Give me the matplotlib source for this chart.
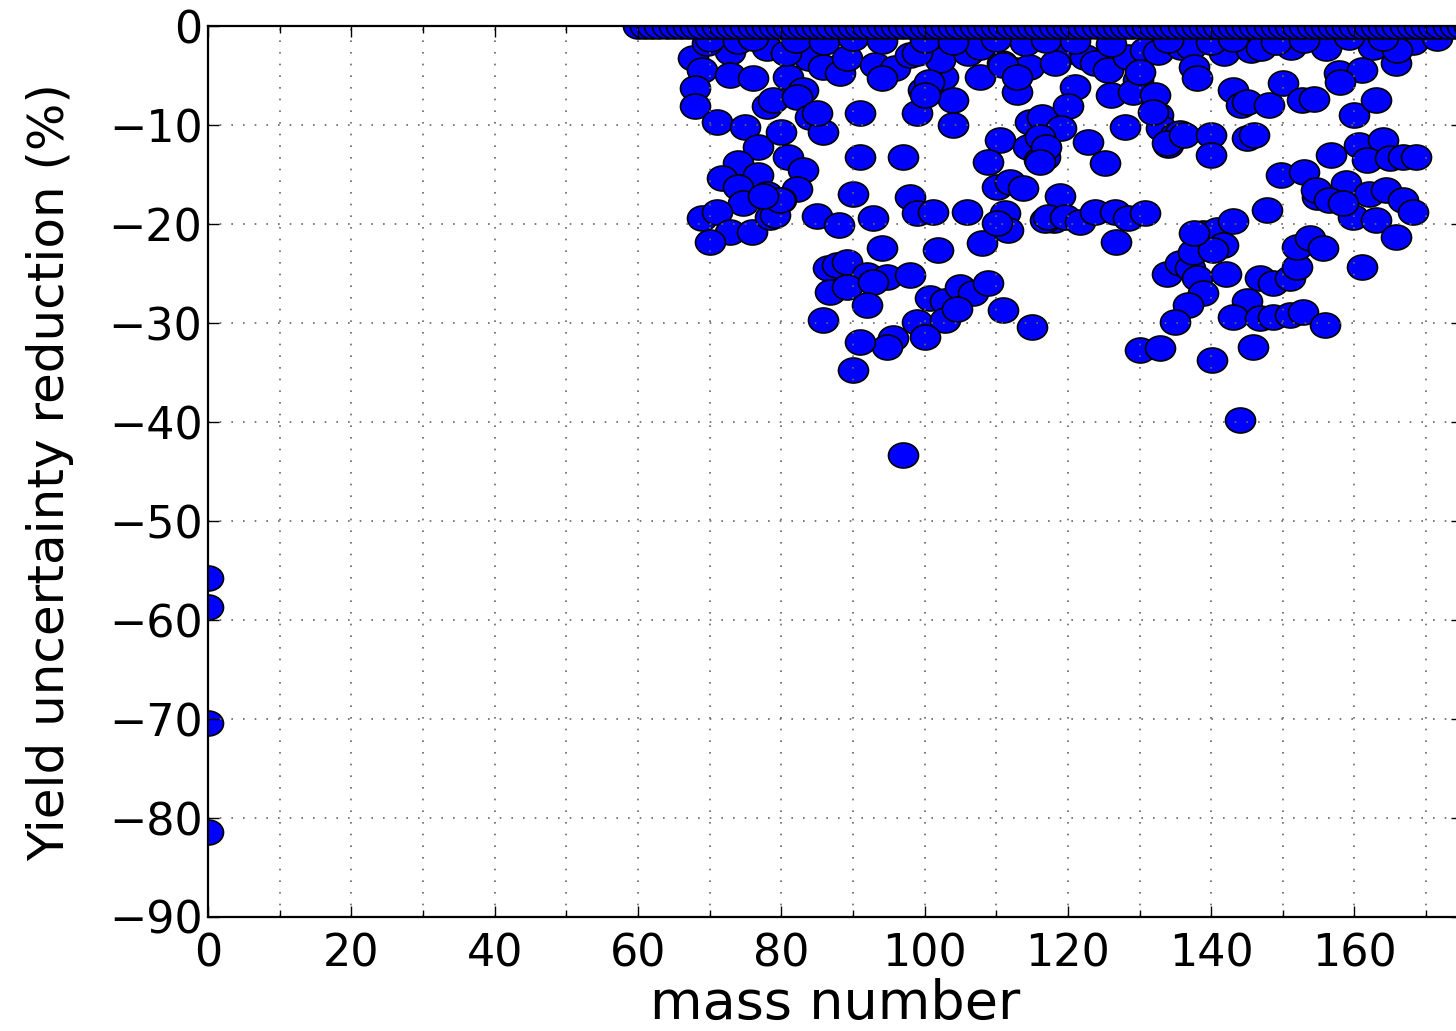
import matplotlib
matplotlib.use("Agg")
import matplotlib.pyplot as plt
from matplotlib.path import Path
from matplotlib.transforms import Affine2D
from matplotlib.ticker import MultipleLocator

# ---- data ----
# mass numbers / yield uncertainty reductions of scattered nuclides
mass = [
    67.7, 68.9, 68.0, 68.0, 71.0, 75.0, 72.9, 78.0, 69.6, 72.9, 76.1, 78.0, 78.9,
    76.8, 74.0, 71.7, 76.8, 74.0, 78.0, 74.7, 68.9, 71.0, 72.9, 75.9, 70.0, 78.4,
    80.0, 81.0, 83.0, 82.2, 80.0, 79.1, 79.8, 77.5,
    81.0, 83.0, 82.2, 83.8, 85.8, 88.2, 89.2, 93.1, 95.9, 98.0, 94.1, 91.0, 99.0,
    99.8, 101.7, 102.6, 104.0, 104.0, 102.2, 106.4, 107.7, 80.7, 84.0, 85.8, 85.0,
    91.0, 97.0, 90.0, 98.0, 85.0, 88.0, 92.8, 99.0, 101.2, 105.9, 101.9, 94.0, 108.0,
    86.5, 87.8, 89.2, 92.0, 94.7, 98.0, 86.8, 89.2, 92.8, 92.0, 85.8, 100.8, 102.9,
    105.0, 106.8, 108.9, 111.0, 115.0, 99.0, 102.9, 100.0, 95.6, 94.7, 91.0, 90.0,
    97.0, 104.5,
    110.8, 112.6, 114.6, 112.9, 111.0, 112.9, 110.5, 108.9, 110.1, 111.9, 113.7,
    114.5, 114.7, 111.2, 111.7, 100.6, 100.0, 106.1, 107.7, 99.0, 116.4, 116.0,
    116.8, 110.1, 118.0, 118.9, 116.8,
    119.6, 122.4, 123.8, 125.6, 128.4, 130.8, 132.6, 135.8, 118.2, 121.0, 126.0,
    129.8, 129.1, 132.2, 120.0, 119.1, 128.0, 122.8, 125.2, 132.6, 133.0, 135.0,
    134.0, 135.7, 117.2, 119.6, 121.7, 123.8, 126.6, 128.4, 130.8, 126.7, 131.9,
    133.8, 116.1, 117.0, 116.1, 130.1,
    133.8, 135.7, 137.0, 138.0, 138.9, 142.0, 136.8, 135.0, 130.1, 132.9, 140.1,
    138.9, 140.8, 143.0, 137.5, 141.7, 140.3, 146.8, 148.6, 151.0, 152.0, 152.0,
    153.8, 155.6, 145.0, 143.0, 146.8, 148.6, 151.0, 152.8, 155.9, 145.8, 144.0,
    161.0, 147.8,
    137.2, 141.8, 145.6, 147.0, 151.2, 137.6, 138.0, 143.0, 144.2, 145.0, 148.1,
    150.0, 152.7, 154.4, 136.2, 140.0, 140.0, 145.0, 146.0, 149.8, 153.0, 154.8,
    137.6,
    156.0, 162.6, 165.8, 168.2, 159.3, 157.8, 161.1, 160.0, 163.0, 156.7, 160.6,
    164.0, 161.7, 164.9, 166.8, 168.6, 154.6, 158.8, 156.5, 162.0, 159.8, 164.4,
    166.8, 168.2, 163.0, 165.8, 158.0, 165.9, 158.4, 171.5,
    70.0, 74.0, 76.0, 82.0, 86.0, 90.0, 94.0, 100.0, 104.0, 110.0, 114.0, 117.0,
    121.0, 126.0, 134.0, 140.0, 143.0, 149.0, 153.0, 164.0,
    0.0, 0.0, 0.0, 0.0,
]
reduction = [
    -3.2, -4.4, -6.2, -8.1, -9.7, -10.2, -2.6, -2.2, -1.7, -4.9, -5.2, -8.1, -7.4,
    -12.2, -13.8, -15.3, -15.0, -16.2, -16.9, -17.9, -19.4, -18.8, -20.8, -20.8, -21.8, -19.3,
    -10.7, -13.2, -14.5, -16.4, -17.6, -19.1, -17.6, -17.1,
    -5.1, -6.4, -7.1, -3.2, -4.1, -4.7, -3.2, -3.9, -4.2, -2.9, -5.2, -8.8, -8.8,
    -6.4, -5.7, -5.1, -7.4, -10.0, -3.4, -2.4, -5.1, -2.7, -9.2, -10.7, -8.8,
    -13.2, -13.2, -16.9, -17.2, -19.2, -20.1, -19.4, -18.9, -18.8, -18.8, -22.6, -22.4, -21.9,
    -24.4, -24.1, -23.8, -25.1, -25.3, -25.1, -26.8, -26.3, -25.8, -28.2, -29.7, -27.5, -27.8,
    -26.3, -27.0, -25.9, -28.7, -30.4, -29.9, -29.7, -31.4, -31.5, -32.4, -31.9, -34.7,
    -43.3, -28.6,
    -3.7, -4.4, -4.1, -6.6, -3.9, -5.1, -11.5, -13.7, -16.2, -15.7, -16.3,
    -12.2, -9.7, -18.9, -20.6, -5.6, -6.9, -2.7, -2.1, -2.7, -9.2, -13.5,
    -13.2, -19.9, -19.6, -17.1, -19.6,
    -2.6, -3.1, -3.7, -4.4, -3.1, -2.4, -2.6, -2.1, -3.7, -6.1, -6.9,
    -5.4, -6.6, -6.9, -8.1, -10.3, -10.2, -11.7, -13.8, -9.0, -10.3, -11.0,
    -12.0, -10.8, -19.3, -19.3, -19.8, -18.8, -18.8, -19.4, -18.9, -21.8, -8.7,
    -11.8, -11.2, -12.2, -13.7, -4.6,
    -25.0, -23.9, -24.4, -25.4, -27.0, -25.0, -28.2, -29.9, -32.7, -32.5, -33.7,
    -20.9, -20.6, -19.7, -22.8, -22.1, -22.6, -25.4, -25.9, -25.4, -24.3, -22.3,
    -21.4, -22.4, -27.8, -29.4, -29.5, -29.4, -29.2, -28.9, -30.2, -32.4, -39.8,
    -24.3, -18.6,
    -2.1, -2.7, -2.4, -2.2, -2.1, -4.1, -5.2, -6.4, -8.0, -7.7, -8.0,
    -5.7, -7.4, -7.3, -11.0, -11.0, -13.0, -11.3, -11.0, -15.0, -14.7, -17.2,
    -20.9,
    -2.2, -2.1, -3.7, -1.6, -1.1, -4.7, -4.4, -9.0, -7.4, -13.0, -12.0,
    -11.5, -13.5, -13.3, -13.2, -13.2, -16.5, -15.8, -17.6, -16.9, -19.3, -16.5,
    -17.6, -18.8, -19.6, -21.3, -5.6, -2.4, -17.9, -1.2,
    -1.3, -1.5, -1.2, -1.4, -1.6, -1.2, -1.5, -1.4, -1.6, -1.3, -1.7, -1.4,
    -1.5, -1.8, -1.4, -1.6, -1.3, -1.6, -1.4, -1.2,
    -55.7, -58.7, -70.4, -81.4,
]
# nuclides whose uncertainty is not reduced (row at 0 %)
zero_mass = [
    60, 61, 62, 63, 64, 65, 66, 67, 68, 69, 70, 71, 72, 73, 74, 75, 76, 77, 78, 79,
    80, 81, 82, 83, 84, 85, 86, 87, 88, 89, 90, 91, 92, 93, 94, 95, 96, 97, 98, 99,
    100, 101, 102, 103, 104, 105, 106, 107, 108, 109, 110, 111, 112, 113, 114, 115,
    116, 117, 118, 119, 120, 121, 122, 123, 124, 125, 126, 127, 128, 129, 130, 131,
    132, 133, 134, 135, 136, 137, 138, 139, 140, 141, 142, 143, 144, 145, 146, 147,
    148, 149, 150, 151, 152, 153, 154, 155, 156, 157, 158, 159, 160, 161, 162, 163,
    164, 165, 166, 167, 168, 169, 170, 171, 172, 173, 174, 175, 176,
]
zero_red = [0.0] * len(zero_mass)

xticks = [0, 20, 40, 60, 80, 100, 120, 140, 160]
yticks = [-90, -80, -70, -60, -50, -40, -30, -20, -10, 0]

# ---- figure ----
fig = plt.figure(figsize=(14.56, 10.31), dpi=100)
ax = fig.add_axes([0.1429, 0.1106, 1.0041 - 0.1429, 0.9745 - 0.1106])

# slightly wide ellipse marker (picture is stretched horizontally)
ell = Path.unit_circle().transformed(Affine2D().scale(1.2, 1.0))

ax.plot(mass, reduction, linestyle="none", marker=ell, markersize=21.6,
        markerfacecolor="#0000ff", markeredgecolor="black", markeredgewidth=1.2,
        zorder=2)
ax.plot(zero_mass, zero_red, linestyle="none", marker=ell, markersize=21.6,
        markerfacecolor="#0000ff", markeredgecolor="black", markeredgewidth=1.2,
        zorder=2.1)

ax.set_xlim(0, 175)
ax.set_ylim(-90, 0)
ax.set_xticks(xticks)
ax.set_yticks(yticks)
ax.xaxis.set_minor_locator(MultipleLocator(10))

ax.grid(True, which="both", axis="x", color="0.4", linestyle=(0, (1, 6)), linewidth=1.2, zorder=3)
ax.grid(True, which="major", axis="y", color="0.4", linestyle=(0, (1, 6)), linewidth=1.2, zorder=3)
ax.set_axisbelow(False)

ax.tick_params(which="both", direction="in", top=True, right=True, labelsize=32,
               width=1.0, colors="black")
ax.tick_params(which="major", length=8)
ax.tick_params(which="minor", length=5)
ax.tick_params(axis="x", pad=11)
ax.tick_params(axis="y", pad=4)

for s in ax.spines.values():
    s.set_linewidth(1.6)
    s.set_zorder(4)

ax.set_xlabel("mass number", fontsize=39)
ax.set_ylabel("Yield uncertainty reduction (%)", fontsize=36)
ax.xaxis.set_label_coords(0.5, -0.068)
ax.yaxis.set_label_coords(-0.107, 0.5)

fig.savefig("out.png", dpi=100)
